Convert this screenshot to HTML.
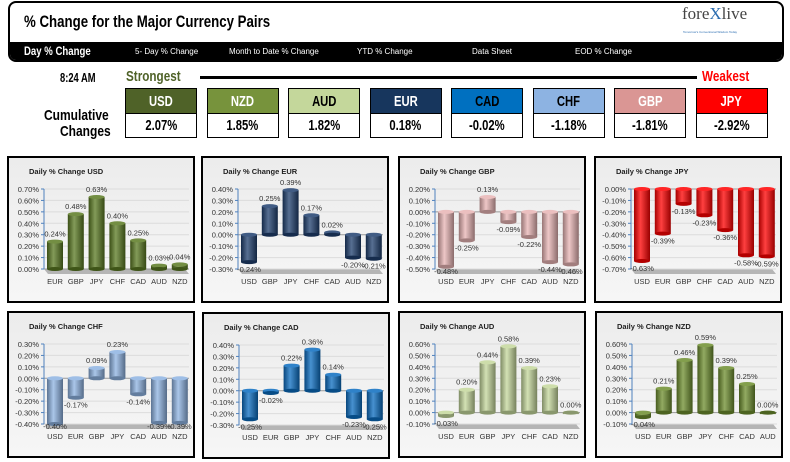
<!DOCTYPE html>
<html><head><meta charset="utf-8">
<style>
body{margin:0;width:790px;height:462px;background:#fff;position:relative;overflow:hidden;font-family:"Liberation Sans",sans-serif}
.abs{position:absolute}
.cond{font-weight:bold;transform-origin:left center;white-space:nowrap}
.hdr{position:absolute;left:8px;top:1px;width:772px;height:57px;border:2px solid #000;border-radius:8px;overflow:hidden;background:#fff}
.nav{position:absolute;left:0;top:39px;width:100%;height:18px;background:#000}
.nav span{position:absolute;top:5px;color:#fff;font-size:8px;white-space:nowrap}
.cbox{position:absolute;top:88px;width:70px;height:48px;border:1px solid #000}
.cbox .h{height:24px;border-bottom:1px solid #000;display:flex;align-items:center;justify-content:center;font-weight:bold;font-size:15px}
.cbox .v{height:23px;display:flex;align-items:center;justify-content:center;font-weight:bold;font-size:15px;background:#fff}
.cbox span{display:inline-block;transform:scaleX(.75)}
.panel{position:absolute;width:184px;height:143px;border:2px solid #000;background:linear-gradient(#ececec,#f6f6f6)}
.panel svg{position:absolute;left:0;top:0}
</style></head><body>
<div class="hdr">
 <div class="abs cond" style="left:14px;top:9px;font-size:17px;transform:scaleX(.78)">% Change for the Major Currency Pairs</div>
 <div class="abs" style="left:672px;top:1px;font-family:'Liberation Serif',serif;font-size:17px;color:#444">fore<span style="color:#2a6cb0">X</span>live</div>
 <div class="abs" style="left:673px;top:27px;font-size:3px;color:#2a6cb0">Tomorrow's Conventional Wisdom Today</div>
 <div class="nav">
  <span class="cond" style="left:14px;top:2px;font-size:12px;transform:scaleX(.8)">Day % Change</span>
  <span style="left:125px">5- Day % Change</span>
  <span style="left:219px">Month to Date % Change</span>
  <span style="left:347px">YTD % Change</span>
  <span style="left:462px">Data Sheet</span>
  <span style="left:565px">EOD % Change</span>
 </div>
</div>
<div class="abs cond" style="left:60px;top:70px;font-size:13px;transform:scaleX(.72)">8:24 AM</div>
<div class="abs cond" style="left:126px;top:68px;font-size:15px;color:#4f6228;transform:scaleX(.78)">Strongest</div>
<div class="abs" style="left:200px;top:76px;width:497px;height:3px;background:#000"></div>
<div class="abs cond" style="left:702px;top:68px;font-size:15px;color:#f00;transform:scaleX(.78)">Weakest</div>
<div class="abs cond" style="left:44px;top:107px;font-size:15px;transform:scaleX(.8)">Cumulative</div>
<div class="abs cond" style="left:60px;top:123px;font-size:15px;transform:scaleX(.8)">Changes</div>
<div id="cboxes"></div>
<div id="panels"></div>
<script>
const rankCurr=["USD","NZD","AUD","EUR","CAD","CHF","GBP","JPY"];
const rankVals=["2.07%","1.85%","1.82%","0.18%","-0.02%","-1.18%","-1.81%","-2.92%"];
const rankBg=["#4f6228","#77933c","#c4d79b","#17365d","#0070c0","#8db3e2","#da9694","#ff0000"];
const rankFg=["#fff","#fff","#000","#fff","#000","#000","#fff","#fff"];
const cb=document.getElementById('cboxes');
rankCurr.forEach((c,i)=>{
 const d=document.createElement('div');d.className='cbox';d.style.left=(125+i*81.5)+'px';
 
 
 d.innerHTML='<div class="h" style="background:'+rankBg[i]+';color:'+rankFg[i]+'"><span>'+c+'</span></div><div class="v"><span>'+rankVals[i]+'</span></div>';
 cb.appendChild(d);
});

const usdCats=["EUR","GBP","JPY","CHF","CAD","AUD","NZD"];
const usdVals=[0.24,0.48,0.63,0.40,0.25,0.03,0.04];
const usdTicks=[0,0.1,0.2,0.3,0.4,0.5,0.6,0.7];
const eurCats=["USD","GBP","JPY","CHF","CAD","AUD","NZD"];
const eurVals=[-0.24,0.25,0.39,0.17,0.02,-0.20,-0.21];
const eurTicks=[-0.3,-0.2,-0.1,0,0.1,0.2,0.3,0.4];
const gbpCats=["USD","EUR","JPY","CHF","CAD","AUD","NZD"];
const gbpVals=[-0.48,-0.25,0.13,-0.09,-0.22,-0.44,-0.46];
const gbpTicks=[-0.5,-0.4,-0.3,-0.2,-0.1,0,0.1,0.2];
const jpyCats=["USD","EUR","GBP","CHF","CAD","AUD","NZD"];
const jpyVals=[-0.63,-0.39,-0.13,-0.23,-0.36,-0.58,-0.59];
const jpyTicks=[-0.7,-0.6,-0.5,-0.4,-0.3,-0.2,-0.1,0];
const chfCats=["USD","EUR","GBP","JPY","CAD","AUD","NZD"];
const chfVals=[-0.40,-0.17,0.09,0.23,-0.14,-0.39,-0.39];
const chfTicks=[-0.4,-0.3,-0.2,-0.1,0,0.1,0.2,0.3];
const cadCats=["USD","EUR","GBP","JPY","CHF","AUD","NZD"];
const cadVals=[-0.25,-0.02,0.22,0.36,0.14,-0.23,-0.25];
const cadTicks=[-0.3,-0.2,-0.1,0,0.1,0.2,0.3,0.4];
const audCats=["USD","EUR","GBP","JPY","CHF","CAD","NZD"];
const audVals=[-0.03,0.20,0.44,0.58,0.39,0.23,0.00];
const audTicks=[-0.1,0,0.1,0.2,0.3,0.4,0.5,0.6];
const nzdCats=["USD","EUR","GBP","JPY","CHF","CAD","AUD"];
const nzdVals=[-0.04,0.21,0.46,0.59,0.39,0.25,0.00];
const nzdTicks=[-0.1,0,0.1,0.2,0.3,0.4,0.5,0.6];

const NS='http://www.w3.org/2000/svg';
function el(t,a,p){const e=document.createElementNS(NS,t);for(const k in a)e.setAttribute(k,a[k]);if(p)p.appendChild(e);return e;}
function shade(hex,f){let n=parseInt(hex.slice(1),16),r=n>>16,g=(n>>8)&255,b=n&255;
 const m=v=>Math.max(0,Math.min(255,Math.round(f<0?v*(1+f):v+(255-v)*f)));
 return 'rgb('+m(r)+','+m(g)+','+m(b)+')';}
function chart(name,left,top,cats,vals,ticks,color){
 const p=document.createElement('div');p.className='panel';p.style.left=left+'px';p.style.top=top+'px';
 
 
 document.getElementById('panels').appendChild(p);
 const s=el('svg',{width:184,height:143},p);
 const gid='g'+name;
 const gr=el('linearGradient',{id:gid,x1:0,x2:1,y1:0,y2:0},el('defs',{},s));
 el('stop',{offset:'0','stop-color':shade(color,-0.35)},gr);
 el('stop',{offset:'0.4','stop-color':shade(color,0.25)},gr);
 el('stop',{offset:'1','stop-color':shade(color,-0.4)},gr);
 const t=el('text',{x:20,y:16,'font-size':'7.5','font-weight':'bold',fill:'#222'},s);t.textContent='Daily % Change '+name;
 
 
 const mn=ticks[0],mx=ticks[ticks.length-1],yT=31,yB=111,ax=35,xr=180;
 const Y=v=>yB-(v-mn)/(mx-mn)*(yB-yT);
 const X=i=>46+i*20.8;
 el('polygon',{points:(ax)+','+yB+' '+(xr-4)+','+yB+' '+(xr)+','+(yB+5)+' '+(ax+4)+','+(yB+5),fill:'#b5b5b5'},s);
 ticks.forEach(v=>{
  el('line',{x1:ax,x2:xr,y1:Y(v),y2:Y(v),stroke:v===0?'#999':'#dcdcdc','stroke-width':1},s);
  el('line',{x1:ax-3,x2:ax,y1:Y(v),y2:Y(v),stroke:'#4f81bd'},s);
  const l=el('text',{x:ax-5,y:Y(v)+3,'font-size':'7.5','text-anchor':'end',fill:'#333'},s);l.textContent=v.toFixed(2)+'%';
  
  
 });
 el('line',{x1:ax,x2:ax,y1:yT,y2:yB,stroke:'#4f81bd'},s);
 cats.forEach((c,i)=>{
  const v=vals[i],x=X(i),y0=Y(0),y1=Y(v),w=16;
  const b=el('rect',{x:x-w/2,y:Math.min(y0,y1),width:w,height:Math.max(1.5,Math.abs(y1-y0)),fill:'url(#'+gid+')'},s);
  
  
  el('ellipse',{cx:x,cy:Math.min(y0,y1),rx:w/2,ry:2,fill:shade(color,0.15)},s);
  el('ellipse',{cx:x,cy:Math.max(y0,y1),rx:w/2,ry:2,fill:shade(color,-0.3)},s);
  const lb=el('text',{x:x,y:v>=0?y1-5:Math.min(y1+10,yB+5),'font-size':'7.5','text-anchor':'middle',fill:'#333'},s);
  lb.textContent=v.toFixed(2)+'%';
  
  
  const cl=el('text',{x:x,y:yB+15,'font-size':'7.5','text-anchor':'middle',fill:'#333'},s);cl.textContent=c;
  
  
 });
}
chart('USD',7,156,usdCats,usdVals,usdTicks,'#5a7a22');
chart('EUR',201,156,eurCats,eurVals,eurTicks,'#1f3f6e');
chart('GBP',398,156,gbpCats,gbpVals,gbpTicks,'#e8b4b4');
chart('JPY',594,156,jpyCats,jpyVals,jpyTicks,'#ff0000');
chart('CHF',7,311,chfCats,chfVals,chfTicks,'#8db3e2');
chart('CAD',202,312,cadCats,cadVals,cadTicks,'#0a6cc0');
chart('AUD',398,311,audCats,audVals,audTicks,'#c4d79b');
chart('NZD',595,311,nzdCats,nzdVals,nzdTicks,'#6d8e2e');
</script>
</body></html>
